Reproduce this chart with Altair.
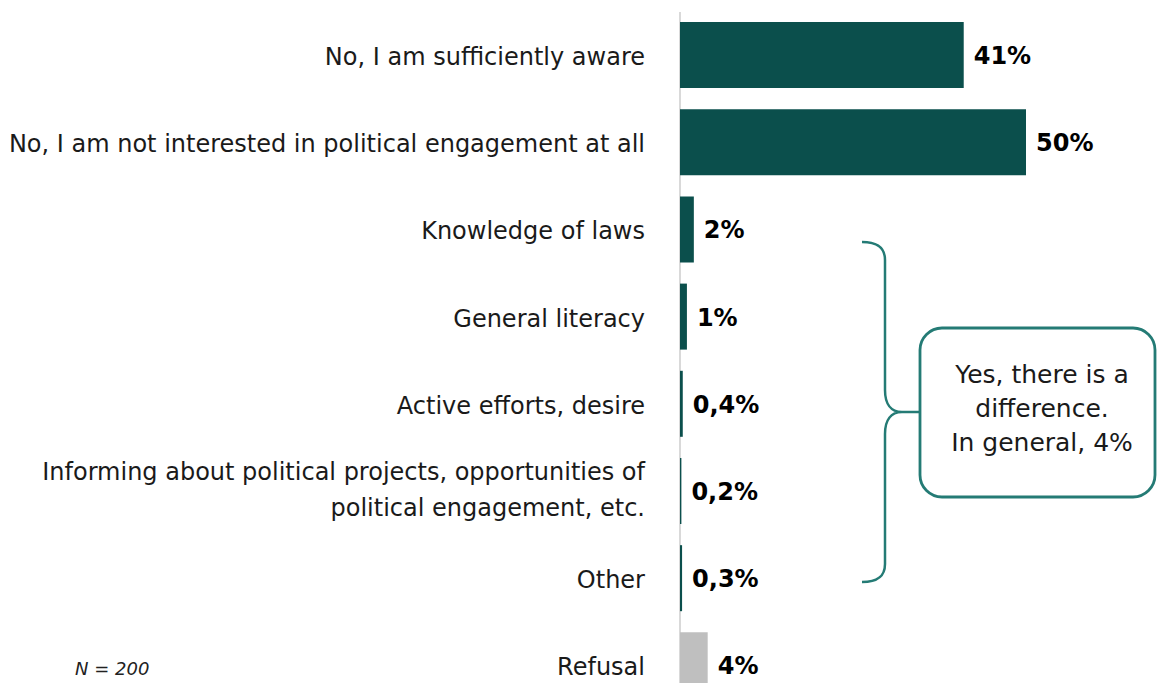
import altair as alt
import pandas as pd

categories = [
    "No, I am sufficiently aware",
    "No, I am not interested in political engagement at all",
    "Knowledge of laws",
    "General literacy",
    "Active efforts, desire",
    "Informing about political projects, opportunities of\npolitical engagement, etc.",
    "Other",
    "Refusal",
]
values = [41, 50, 2, 1, 0.4, 0.2, 0.3, 4]
value_labels = ["41%", "50%", "2%", "1%", "0,4%", "0,2%", "0,3%", "4%"]
groups = ["answer"] * 7 + ["refusal"]

box_text = "Yes, there is a\ndifference.\nIn general, 4%"
note_text = "N = 200"

df = pd.DataFrame({"category": categories, "value": values,
                   "label": value_labels, "group": groups})
one = pd.DataFrame({"k": [0]})

W = 477
H = 671
TEAL = "#0b4f4c"
ACCENT = "#247b75"
FONT = "DejaVu Sans"

y_scale = alt.Scale(domain=categories, range=[0, 696.4],
                    paddingInner=0.243, paddingOuter=0.115)
x_scale = alt.Scale(domain=[0, W / 6.92], nice=False, zero=True)

Y = alt.Y("category:N", scale=y_scale, axis=None)

axis_line = alt.Chart(one).mark_rule(color="#d9d9d9", strokeWidth=2).encode(
    x=alt.value(0), y=alt.value(0), y2=alt.value(H + 40))

bars = alt.Chart(df).mark_bar().encode(
    y=Y,
    x=alt.X("value:Q", scale=x_scale, axis=None),
    color=alt.Color("group:N", scale=alt.Scale(domain=["answer", "refusal"],
                                                 range=[TEAL, "#bfbfbf"]), legend=None),
)

vals = alt.Chart(df).mark_text(align="left", baseline="middle", dx=10, dy=2,
                               font=FONT, fontSize=24, fontWeight="bold",
                               color="#000000").encode(
    y=Y, x=alt.X("value:Q", scale=x_scale, axis=None), text="label:N")

cat_style = dict(align="right", baseline="middle", lineBreak="\n", lineHeight=36,
                 font=FONT, fontSize=24, color="#1a1a1a")

cats_single = alt.Chart(df).transform_filter(
    "indexof(datum.category, '\\n') < 0"
).mark_text(dy=3, **cat_style).encode(y=Y, x=alt.value(-35), text="category:N")

cats_multi = alt.Chart(df).transform_filter(
    "indexof(datum.category, '\\n') >= 0"
).mark_text(dy=-18, **cat_style).encode(y=Y, x=alt.value(-35), text="category:N")

brace_path = ("M -23 -170 C -8 -170 0 -165 0 -152 L 0 -22 C 0 -8 6 0 17 0 L 35 0 "
              "M 17 0 C 6 0 0 8 0 22 L 0 152 C 0 165 -8 170 -23 170")
brace = alt.Chart(one).mark_point(shape=brace_path, size=4, filled=False,
                                  stroke=ACCENT, strokeWidth=2.5, opacity=1).encode(
    x=alt.value(205), y=alt.value(400))

box = alt.Chart(one).mark_rect(cornerRadius=22, fill="white", stroke=ACCENT,
                               strokeWidth=2.8).encode(
    x=alt.value(240), x2=alt.value(475), y=alt.value(316), y2=alt.value(485))

box_label = alt.Chart(one).mark_text(align="center", baseline="middle", lineBreak="\n",
                                     lineHeight=34, font=FONT, fontSize=25,
                                     color="#1a1a1a", text=box_text).encode(
    x=alt.value(362), y=alt.value(363))

note = alt.Chart(one).mark_text(align="left", baseline="middle", font=FONT,
                                fontSize=18, fontStyle="italic", color="#222222",
                                text=note_text).encode(
    x=alt.value(-605), y=alt.value(658))

chart = alt.layer(axis_line, bars, vals, cats_single, cats_multi, brace, box,
                  box_label, note).properties(
    width=W, height=H,
    autosize=alt.AutoSizeParams(type="none"),
    padding={"left": 672, "top": 4, "right": 0, "bottom": 0},
).configure_view(stroke=None)

chart.save("out.html", embed_options={"renderer": "svg", "actions": False})
